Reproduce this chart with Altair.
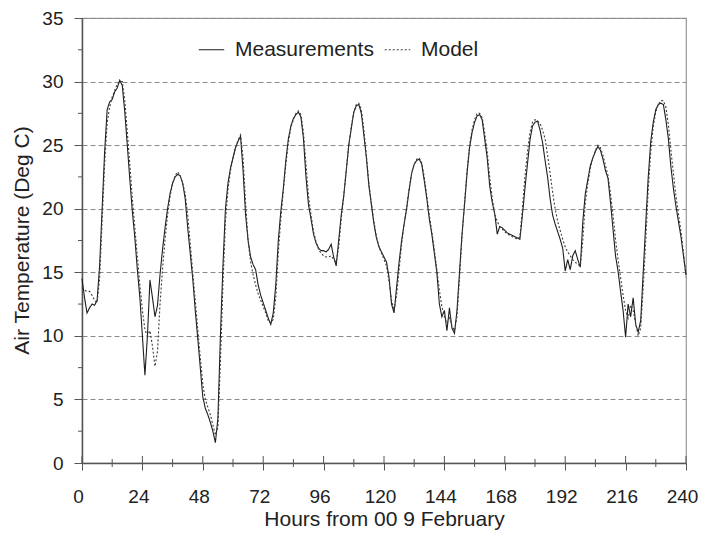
import altair as alt
import pandas as pd

hours = list(range(0, 241))

measurements = [
    14.5, 13.0, 11.8, 12.2, 12.5, 12.4, 12.8, 15.5, 20.0, 24.5,
    27.8, 28.4, 28.6, 29.2, 29.5, 30.1, 29.7, 27.6, 25.0, 22.3,
    19.8, 17.7, 15.2, 13.0, 10.0, 6.9, 10.0, 14.4, 13.0, 11.5,
    12.4, 14.8, 16.8, 18.5, 20.0, 21.2, 22.0, 22.5, 22.7, 22.6,
    22.0, 20.8, 18.5, 16.5, 14.5, 12.0, 9.8, 7.5, 5.2, 4.3,
    3.8, 3.2, 2.5, 1.6, 3.5, 10.0, 15.5, 20.0, 22.0, 23.2,
    24.0, 24.8, 25.3, 25.7, 23.0, 19.5, 17.5, 16.2, 15.6, 15.2,
    14.0, 13.2, 12.6, 12.0, 11.4, 10.9, 11.8, 14.0, 17.5, 19.8,
    21.6, 23.8, 25.5, 26.5, 27.1, 27.4, 27.6, 27.2, 25.5, 22.5,
    20.3, 19.2, 18.0, 17.3, 16.9, 16.7, 16.7, 16.6, 16.8, 17.2,
    16.2, 15.5, 17.5, 19.5, 21.0, 23.0, 25.0, 26.3, 27.6, 28.1,
    28.2, 27.5, 25.8, 24.0, 21.8, 20.3, 18.8, 17.7, 17.0, 16.6,
    16.2, 15.8, 14.6, 12.5, 11.8, 13.8, 15.8, 17.5, 18.8, 20.0,
    21.5, 22.8, 23.5, 23.8, 23.9, 23.5, 22.2, 20.8, 19.2, 18.0,
    16.5, 15.0, 12.5, 11.5, 12.0, 10.4, 12.2, 10.6, 10.2, 12.0,
    15.0, 18.0, 20.3, 22.8, 24.8, 26.0, 26.8, 27.3, 27.4, 27.0,
    25.5, 24.0, 21.8, 20.5, 19.6, 18.0, 18.6, 18.5, 18.3, 18.1,
    18.0, 17.9, 17.8, 17.7, 17.6, 19.5, 21.6, 23.5, 25.4, 26.5,
    26.8, 26.9, 26.2, 25.2, 23.8, 22.5, 20.8, 19.5, 18.8, 18.2,
    17.6, 16.9, 15.1, 16.0, 15.2, 16.3, 16.7, 16.0, 15.4, 19.0,
    21.2, 22.3, 23.4, 24.0, 24.5, 24.9, 24.6, 23.9, 23.0, 22.4,
    20.5, 18.4, 16.3, 15.1, 13.5, 12.0, 9.9, 12.5, 11.5, 13.0,
    10.9, 10.3, 11.2, 15.0, 18.8, 22.5, 25.3, 26.8, 27.8, 28.2,
    28.3, 28.2, 27.0, 25.5, 23.3, 21.6, 20.2, 19.0, 17.8, 16.3,
    14.8,
]

model = [
    13.8, 13.6, 13.5, 13.5, 13.2, 12.8, 12.6, 14.5, 19.0, 23.5,
    26.8, 28.0, 28.8, 29.3, 29.8, 30.0, 30.0, 28.5, 26.0, 23.5,
    20.8, 18.5, 16.2, 14.0, 12.0, 10.5, 10.0, 10.4, 9.2, 7.6,
    8.8, 12.5, 15.2, 17.6, 19.5, 21.0, 22.0, 22.6, 22.9, 22.6,
    22.0, 21.2, 19.5, 17.3, 15.0, 12.8, 10.5, 8.3, 6.2, 5.0,
    4.4, 3.8, 3.0, 2.2, 2.8, 8.0, 14.0, 19.0, 21.5, 23.0,
    24.0, 24.8, 25.4, 25.8, 24.0, 20.5, 17.5, 15.8, 14.8, 14.0,
    13.3, 12.8, 12.3, 11.8, 11.2, 11.0, 11.3, 13.0, 16.5, 19.2,
    21.4, 23.5, 25.2, 26.4, 27.0, 27.5, 27.7, 27.4, 26.0, 23.5,
    21.0, 19.5, 18.2, 17.4, 16.8, 16.5, 16.3, 16.2, 16.2, 16.3,
    16.0, 15.8, 17.0, 19.2, 21.0, 23.0, 25.0, 26.5, 27.6, 28.2,
    28.3, 27.8, 26.2, 24.2, 22.0, 20.4, 19.0, 17.8, 17.0, 16.5,
    16.0, 15.5, 14.3, 12.8, 12.0, 13.2, 15.2, 17.2, 18.8, 20.2,
    21.6, 22.8, 23.5, 23.9, 24.0, 23.6, 22.5, 21.0, 19.5, 18.2,
    16.8, 15.2, 13.6, 12.3, 11.5, 11.0, 11.4, 10.8, 10.4, 11.5,
    14.5, 17.8, 20.5, 23.0, 25.0, 26.2, 27.0, 27.5, 27.5, 27.2,
    26.0, 24.5, 22.5, 20.8, 19.6, 19.0, 18.6, 18.4, 18.2, 18.0,
    17.9, 17.8, 17.7, 17.6, 17.8, 20.0, 22.5, 24.5, 26.0, 26.8,
    27.0, 26.9, 26.7, 26.2, 25.5, 24.2, 22.8, 21.3, 20.0, 19.0,
    18.3, 17.6, 17.0, 16.6, 16.3, 16.0, 15.8, 15.6, 15.5, 17.5,
    20.5, 22.0, 23.2, 24.0, 24.6, 25.0, 24.8, 24.2, 23.4, 22.6,
    21.2, 19.5, 17.6, 16.0, 14.6, 13.2, 12.0, 11.4, 12.4, 12.0,
    11.0, 10.0, 10.6, 13.8, 17.5, 21.5, 24.5, 26.5, 27.6, 28.2,
    28.5, 28.5, 28.0, 26.6, 24.6, 22.8, 21.0, 19.6, 18.2, 16.5,
    14.6,
]

series_names = ["Measurements", "Model"]
x_major_ticks = [0, 24, 48, 72, 96, 120, 144, 168, 192, 216, 240]
x_minor_ticks = [12, 36, 60, 84, 108, 132, 156, 180, 204, 228]
y_major_ticks = [0, 5, 10, 15, 20, 25, 30, 35]
y_minor_ticks = [2.5, 7.5, 12.5, 17.5, 22.5, 27.5, 32.5]

df = pd.concat([
    pd.DataFrame({"hour": hours, "value": measurements, "series": series_names[0]}),
    pd.DataFrame({"hour": hours, "value": model, "series": series_names[1]}),
])

FONT = "Liberation Sans"
INK = "#222222"
AX = "#555555"

xscale = alt.Scale(domain=[0, 240], nice=False, zero=False)
yscale = alt.Scale(domain=[0, 35], nice=False)

xaxis = alt.Axis(
    values=x_major_ticks, title="Hours from 00 9 February",
    labelFontSize=19, labelFont=FONT, labelColor=INK, labelPadding=17,
    labelOffset=-4,
    tickSize=7, tickColor=AX, domainColor=AX, domainWidth=1.5,
    grid=False, titleFontSize=21, titleFont=FONT, titleFontWeight="normal",
    titleColor=INK, titleY=56, titleBaseline="middle", labelFlush=False,
)
yaxis = alt.Axis(
    values=y_major_ticks, title="Air Temperature (Deg C)",
    labelFontSize=19, labelFont=FONT, labelColor=INK, labelPadding=11,
    tickSize=8, tickColor=AX, domainColor=AX, domainWidth=1.5,
    grid=True, gridDash=[5, 3], gridColor="#8a8a8a", gridWidth=1,
    titleFontSize=21, titleFont=FONT, titleFontWeight="normal",
    titleColor=INK, titleX=-60, titleY=222, titleBaseline="middle",
    labelFlush=False,
)

legend = alt.Legend(
    orient="none", legendX=116, legendY=18, direction="horizontal",
    symbolType="stroke", symbolSize=650, symbolStrokeWidth=1.2,
    labelFontSize=21, labelFont=FONT, labelColor=INK, labelOffset=10,
    columnPadding=8, padding=0, title=None,
)

lines = alt.Chart(df).mark_line(strokeWidth=1.1).encode(
    x=alt.X("hour:Q", scale=xscale, axis=xaxis, title="Hours from 00 9 February"),
    y=alt.Y("value:Q", scale=yscale, axis=yaxis, title="Air Temperature (Deg C)"),
    color=alt.Color("series:N", scale=alt.Scale(domain=series_names, range=["#1e1e1e", "#3c3c3c"]),
                    legend=legend, title=None),
    strokeDash=alt.StrokeDash("series:N", scale=alt.Scale(domain=series_names, range=[[1, 0], [2, 2]]),
                              legend=legend, title=None),
)

xt_major = alt.Chart(pd.DataFrame({"hour": x_major_ticks})).mark_rule(color=AX, strokeWidth=1).encode(
    x=alt.X("hour:Q", scale=xscale, axis=xaxis, title="Hours from 00 9 February"),
    y=alt.value(438), y2=alt.value(445))
xt_minor = alt.Chart(pd.DataFrame({"hour": x_minor_ticks})).mark_rule(color=AX, strokeWidth=1).encode(
    x=alt.X("hour:Q", scale=xscale, axis=xaxis, title="Hours from 00 9 February"),
    y=alt.value(441), y2=alt.value(449))
yt_minor = alt.Chart(pd.DataFrame({"value": y_minor_ticks})).mark_rule(color=AX, strokeWidth=1).encode(
    y=alt.Y("value:Q", scale=yscale, axis=yaxis, title="Air Temperature (Deg C)"),
    x=alt.value(-4), x2=alt.value(0))

chart = alt.layer(lines, xt_major, xt_minor, yt_minor).properties(
    width=604, height=445,
    autosize=alt.AutoSizeParams(type="none"),
    padding={"left": 82, "top": 18, "right": 18, "bottom": 73},
).configure(font=FONT).configure_view(stroke="#9a9a9a", strokeWidth=1.2)

chart.save("out.html", embed_options={"renderer": "svg", "actions": False})
